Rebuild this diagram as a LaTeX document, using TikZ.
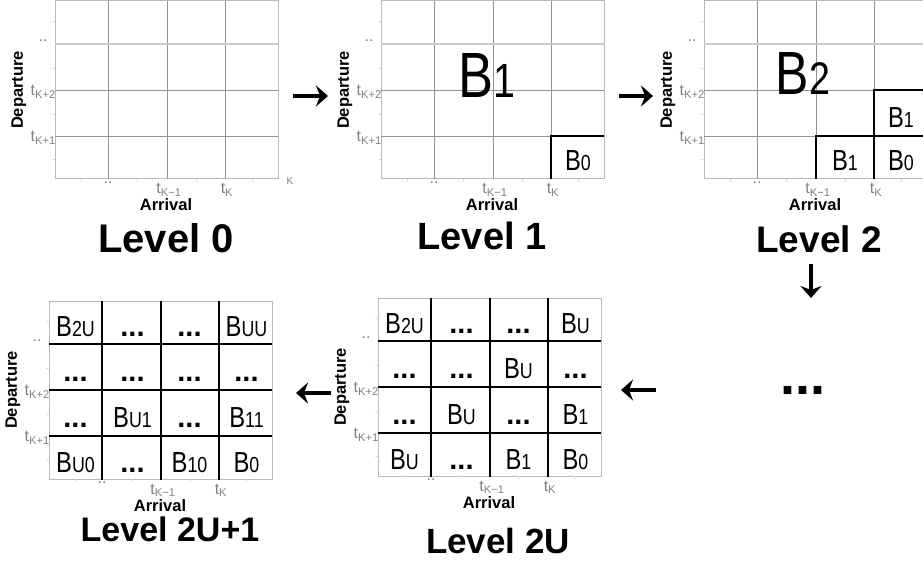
\documentclass[tikz,border=0pt]{standalone}
\usepackage{fontspec}
\setmainfont{Liberation Sans}
\usepackage{graphicx}
\usetikzlibrary{arrows.meta}

\newcommand\blk[1]{\scalebox{0.82}[1]{B\scalebox{0.75}{#1}}}
\newcommand\dd{\textbf{...}}
\newcommand\tk[1]{t\textsubscript{#1}}

\tikzset{
  frame line/.style={draw=gray!55, line width=1pt},
  grid line/.style={draw=gray!85, line width=0.7pt},
  minor tick/.style={draw=gray!25, line width=0.6pt},
  block line/.style={draw=black, line width=1.6pt},
  tick label/.style={text=gray, inner sep=0pt, font=\fontsize{16}{16}\selectfont},
  axis title/.style={inner sep=0pt, font=\bfseries\fontsize{16.5}{16.5}\selectfont},
  level title/.style={inner sep=0pt, anchor=base, font=\bfseries\fontsize{#1}{#1}\selectfont},
  level title/.default=39,
  cell label/.style={inner sep=0pt, anchor=base, font=\fontsize{29}{29}\selectfont},
  big label/.style={inner sep=0pt, anchor=base, font=\fontsize{#1}{#1}\selectfont},
  flow/.style={line width=3.8pt, -{Stealth[length=12pt, width=21pt, inset=4pt]}},
}

\begin{document}
\begin{tikzpicture}[x=1pt, y=-1pt]
    \useasboundingbox (0,0) rectangle (923,561);
    \clip (0,0) rectangle (923,561);

    % axes, grid and tick labels of the five panels
    \foreach \ox/\oy/\id in {55/1/a, 381/1/b, 704/1/c, 378/298/d, 49/301/e}{
        \begin{scope}[shift={(\ox,\oy)}]
            \draw[frame line] (0,0) rectangle (223,178);
            \foreach \gx in {53,112,170} \draw[grid line] (\gx,0) -- (\gx,178);
            \foreach \gy in {89,135} \draw[grid line] (0,\gy) -- (223,\gy);
            \draw[grid line, draw=gray!40, line width=1.2pt] (0,43) -- (223,43);
            \foreach \m in {20,67,113,158} \draw[minor tick] (-3,\m) -- (0,\m);
            \foreach \m in {26,82,141,197} \draw[minor tick] (\m,178) -- (\m,181);
            \node[tick label] (dd-\id) at (-12,40) {..};
            \node[tick label, anchor=east] (k2-\id) at (1,91) {\tk{K+2}};
            \node[tick label, anchor=east] (k1-\id) at (1,137) {\tk{K+1}};
            \node[tick label] (ee-\id) at (53,182) {..};
            \node[tick label, anchor=base] (km-\id) at (114,193) {\tk{K−1}};
            \node[tick label, anchor=base] (kk-\id) at (172,193) {\tk{K}};
            \node[axis title, anchor=base] (arr-\id) at (111,210) {Arrival};
            \node[axis title, rotate=90] (dep-\id) at (-36,89) {Departure};
        \end{scope}
    }

    % level 0
    \begin{scope}[shift={(55,1)}]
        \node[tick label, font=\fontsize{10}{10}\selectfont] (kap) at (235,180) {K};
        \node[level title=40] (lev0) at (111,252) {Level 0};
    \end{scope}

    % level 1
    \begin{scope}[shift={(381,1)}]
        \draw[block line] (223,135) -- (170,135) -- (170,178);
        \node[big label=64] (big1) at (106,97) {\blk{1}};
        \node[cell label] (b0-b) at (197,170) {\blk{0}};
        \node[level title=38] (lev1) at (101,249) {Level 1};
    \end{scope}

    % level 2
    \begin{scope}[shift={(704,1)}]
        \draw[block line] (230,135) -- (112,135) -- (112,178);
        \draw[block line] (230,89) -- (170,89) -- (170,178);
        \node[big label=61] (big2) at (99,94) {\blk{2}};
        \node[cell label] (b1u-c) at (197,127) {\blk{1}};
        \node[cell label] (b1l-c) at (141,170) {\blk{1}};
        \node[cell label] (b0-c) at (197,170) {\blk{0}};
        \node[level title=37] (lev2) at (115,252) {Level 2};
    \end{scope}

    % level 2U
    \begin{scope}[shift={(378,298)}]
        \foreach \gx in {53,112,170} \draw[block line] (\gx,0) -- (\gx,179);
        \foreach \gy in {43,89,135} \draw[block line] (0,\gy) -- (223,\gy);
        \foreach \txt [count=\n from 0] in {\blk{2U},\dd,\dd,\blk{U},
                                            \dd,\dd,\blk{U},\dd,
                                            \dd,\blk{U},\dd,\blk{1},
                                            \blk{U},\dd,\blk{1},\blk{0}}{
            \pgfmathsetmacro\cx{26.5+57*mod(\n,4)}
            \pgfmathsetmacro\cy{35+45.5*int(\n/4)}
            \node[cell label] (u-\n) at (\cx,\cy) {\txt};
        }
        \node[level title=35] (lev2u) at (120,255) {Level 2U};
    \end{scope}

    % level 2U+1
    \begin{scope}[shift={(49,301)}]
        \foreach \gx in {53,112,170} \draw[block line] (\gx,0) -- (\gx,179);
        \foreach \gy in {43,89,135} \draw[block line] (0,\gy) -- (223,\gy);
        \foreach \txt [count=\n from 0] in {\blk{2U},\dd,\dd,\blk{UU},
                                            \dd,\dd,\dd,\dd,
                                            \dd,\blk{U1},\dd,\blk{11},
                                            \blk{U0},\dd,\blk{10},\blk{0}}{
            \pgfmathsetmacro\cx{26.5+57*mod(\n,4)}
            \pgfmathsetmacro\cy{35+45.5*int(\n/4)}
            \node[cell label] (v-\n) at (\cx,\cy) {\txt};
        }
        \node[level title=34] (lev2u1) at (121,240) {Level 2U+1};
    \end{scope}

    % levels in between
    \node[inner sep=0pt, anchor=base, font=\bfseries\fontsize{54}{54}\selectfont] (more) at (803,394) {...};

    % arrows from level to level
    \coordinate (a1s) at (293,96);  \coordinate (a1e) at (328,96);
    \coordinate (a2s) at (619,96);  \coordinate (a2e) at (653,96);
    \coordinate (a3s) at (811,264); \coordinate (a3e) at (811,298);
    \coordinate (a4s) at (656,390); \coordinate (a4e) at (621,390);
    \coordinate (a5s) at (331,393); \coordinate (a5e) at (296,393);
    \draw[flow] (a1s) -- (a1e);
    \draw[flow] (a2s) -- (a2e);
    \draw[flow] (a3s) -- (a3e);
    \draw[flow] (a4s) -- (a4e);
    \draw[flow] (a5s) -- (a5e);
\end{tikzpicture}
\end{document}
